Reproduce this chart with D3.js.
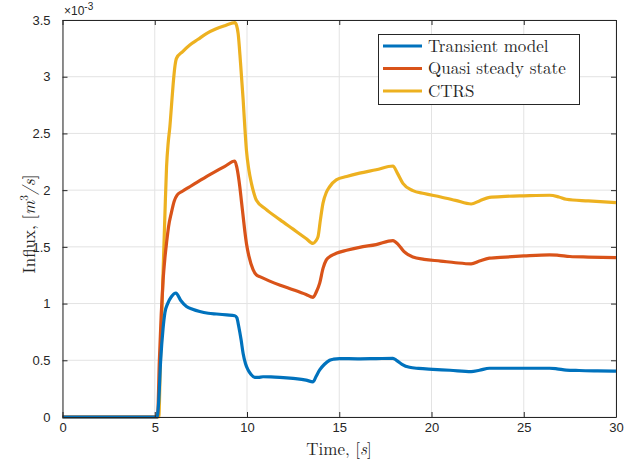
<!DOCTYPE html>
<html><head><meta charset="utf-8">
<script src="https://cdn.jsdelivr.net/npm/d3@7"></script>
<style>body{margin:0;background:#fff}svg{display:block}</style>
</head><body><svg id="c" width="641" height="466"></svg>
<script>
const xTicks = [0,5,10,15,20,25,30];
const yTicks = [0,0.5,1,1.5,2,2.5,3,3.5];
const seriesNames = ["Transient model","Quasi steady state","CTRS"];
const seriesColors = ["#0072BD","#D95319","#EDB120"];
// values in units of 1e-3 m^3/s
const transientT = [0,5.12,5.2,5.32,5.45,5.55,5.7,5.9,6.15,6.4,6.72,7.05,7.44,7.9,8.35,8.9,9.34,9.45,9.55,9.68,9.79,9.92,10.06,10.22,10.42,10.6,10.87,11.3,11.78,12.5,13.2,13.58,13.75,13.94,14.2,14.48,14.7,15.02,16,17,17.91,18.1,18.4,18.81,19.3,20.07,21,22.15,22.6,23.14,24,25,26.4,26.8,27.3,28,29,30];
const transientV = [0,0,0.1,0.5,0.78,0.92,1.0,1.06,1.093,1.03,0.975,0.95,0.93,0.915,0.908,0.9,0.893,0.875,0.80,0.68,0.56,0.47,0.414,0.375,0.35,0.349,0.355,0.354,0.35,0.34,0.325,0.31,0.36,0.415,0.465,0.50,0.51,0.515,0.513,0.515,0.517,0.5,0.465,0.438,0.428,0.42,0.412,0.40,0.412,0.43,0.43,0.43,0.43,0.425,0.414,0.41,0.407,0.405];
const qssT = [0,5.15,5.25,5.35,5.45,5.55,5.65,5.75,5.9,6.05,6.22,6.5,6.9,7.35,7.8,8.3,8.8,9.34,9.45,9.61,9.7,9.79,9.88,9.97,10.1,10.33,10.51,10.69,11.2,11.8,12.5,13.2,13.58,13.75,13.94,14.12,14.3,14.55,14.84,15.4,16.1,17,17.91,18.2,18.5,18.99,19.6,20.5,21.3,22.15,22.6,23.14,24,25,26.4,26.9,27.5,28.5,30];
const qssV = [0,0,0.5,0.9,1.2,1.4,1.55,1.68,1.8,1.9,1.958,1.99,2.03,2.075,2.12,2.165,2.21,2.257,2.2,2.03,1.9,1.77,1.64,1.53,1.42,1.30,1.252,1.237,1.20,1.162,1.122,1.08,1.055,1.1,1.18,1.31,1.385,1.42,1.443,1.47,1.496,1.52,1.555,1.52,1.46,1.41,1.39,1.375,1.36,1.35,1.375,1.40,1.41,1.42,1.43,1.425,1.415,1.41,1.405];
const ctrsT = [0,5.22,5.3,5.38,5.46,5.55,5.64,5.73,5.82,5.91,6.0,6.1,6.18,6.5,6.9,7.35,7.8,8.3,8.8,9.34,9.44,9.52,9.65,9.79,9.88,9.97,10.1,10.24,10.38,10.51,11.0,11.78,12.5,13.2,13.58,13.72,13.85,13.98,14.12,14.3,14.48,14.84,15.4,16.1,17,17.91,18.15,18.45,18.99,19.6,20.5,21.3,22.15,22.6,23.14,24,25,26.4,26.9,27.3,28.5,30];
const ctrsV = [0,0,0.45,0.9,1.32,1.78,2.207,2.42,2.56,2.75,2.94,3.1,3.163,3.22,3.28,3.33,3.38,3.42,3.45,3.477,3.45,3.38,3.12,2.80,2.56,2.35,2.18,2.06,1.97,1.91,1.835,1.74,1.656,1.574,1.53,1.55,1.59,1.74,1.885,1.98,2.03,2.09,2.12,2.15,2.18,2.213,2.15,2.06,1.996,1.97,1.94,1.91,1.878,1.905,1.937,1.945,1.95,1.955,1.94,1.92,1.905,1.89];

const svg = d3.select("#c");
const L=62.5, R=616, T=20, B=417;
const x = d3.scaleLinear().domain([0,30]).range([L,R]);
const y = d3.scaleLinear().domain([0,3.5]).range([B,T]);
const axisColor="#262626";

// grid
const g = svg.append("g");
g.selectAll(".gx").data(xTicks).enter().append("line")
  .attr("x1",d=>x(d)).attr("x2",d=>x(d)).attr("y1",T).attr("y2",B)
  .attr("stroke","#e3e3e3").attr("stroke-width",1);
g.selectAll(".gy").data(yTicks).enter().append("line")
  .attr("y1",d=>y(d)).attr("y2",d=>y(d)).attr("x1",L).attr("x2",R)
  .attr("stroke","#e3e3e3").attr("stroke-width",1);

// lines
const allSeries = [[transientT,transientV],[qssT,qssV],[ctrsT,ctrsV]];
const line = d3.line().x(d=>x(d[0])).y(d=>y(d[1])).curve(d3.curveMonotoneX);
[2,1,0].forEach(i=>{
  const pts = allSeries[i][0].map((t,k)=>[t,allSeries[i][1][k]]);
  svg.append("path").datum(pts).attr("d",line).attr("fill","none")
    .attr("stroke",seriesColors[i]).attr("stroke-width",3.2)
    .attr("stroke-linejoin","round").attr("stroke-linecap","butt");
});

// axes (ticks inward)
const tl=-5;
const axB = svg.append("g").attr("transform",`translate(0,${B})`)
  .call(d3.axisBottom(x).tickValues(xTicks).tickSize(tl).tickSizeOuter(0).tickPadding(6).tickFormat(d3.format("d")));
const axT = svg.append("g").attr("transform",`translate(0,${T})`)
  .call(d3.axisTop(x).tickValues(xTicks).tickSize(tl).tickSizeOuter(0).tickFormat(""));
const axL = svg.append("g").attr("transform",`translate(${L},0)`)
  .call(d3.axisLeft(y).tickValues(yTicks).tickSize(tl).tickSizeOuter(0).tickPadding(12).tickFormat(d=>String(d)));
const axR = svg.append("g").attr("transform",`translate(${R},0)`)
  .call(d3.axisRight(y).tickValues(yTicks).tickSize(tl).tickSizeOuter(0).tickFormat(""));
[axB,axT,axL,axR].forEach(a=>{
  a.select(".domain").attr("stroke",axisColor).attr("stroke-width",1);
  a.selectAll(".tick line").attr("stroke",axisColor);
  a.selectAll(".tick text").attr("fill",axisColor).style("font-family","Liberation Sans, Arial, sans-serif").style("font-size","13px");
});

// exponent
const ex = svg.append("text").attr("x",64).attr("y",15)
  .style("font-family","Liberation Sans, Arial, sans-serif").style("font-size","12px").attr("fill",axisColor);
ex.append("tspan").text("\u00d710");
ex.append("tspan").attr("dy",-5).style("font-size","10px").text("-3");

// axis labels
const serif = "'Latin Modern Roman','CMU Serif','Liberation Serif','Times New Roman',serif";
const xl = svg.append("text").attr("x",339).attr("y",455).attr("text-anchor","middle")
  .style("font-family",serif).style("font-size","17px").attr("fill",axisColor);
xl.append("tspan").text("Time, [");
xl.append("tspan").style("font-style","italic").text("s");
xl.append("tspan").text("]");

const yl = svg.append("text").attr("transform",`translate(35,224) rotate(-90)`).attr("text-anchor","middle")
  .style("font-family",serif).style("font-size","17px").attr("fill",axisColor);
yl.append("tspan").text("Influx, [");
yl.append("tspan").style("font-style","italic").text("m");
yl.append("tspan").attr("dy",-7).style("font-size","12px").text("3");
yl.append("tspan").attr("dy",7).style("font-style","italic").text("/s");
yl.append("tspan").text("]");

// legend
const lg = svg.append("g");
lg.append("rect").attr("x",378.5).attr("y",34.5).attr("width",201).attr("height",70)
  .attr("fill","#fff").attr("stroke",axisColor).attr("stroke-width",1);
seriesNames.forEach((n,i)=>{
  const yy = 46 + i*22.5;
  lg.append("line").attr("x1",383).attr("x2",422).attr("y1",yy).attr("y2",yy)
    .attr("stroke",seriesColors[i]).attr("stroke-width",3.2);
  lg.append("text").attr("x",428).attr("y",yy+5.5).text(n)
    .style("font-family",serif).style("font-size","17px").attr("fill",axisColor);
});
</script></body></html>
